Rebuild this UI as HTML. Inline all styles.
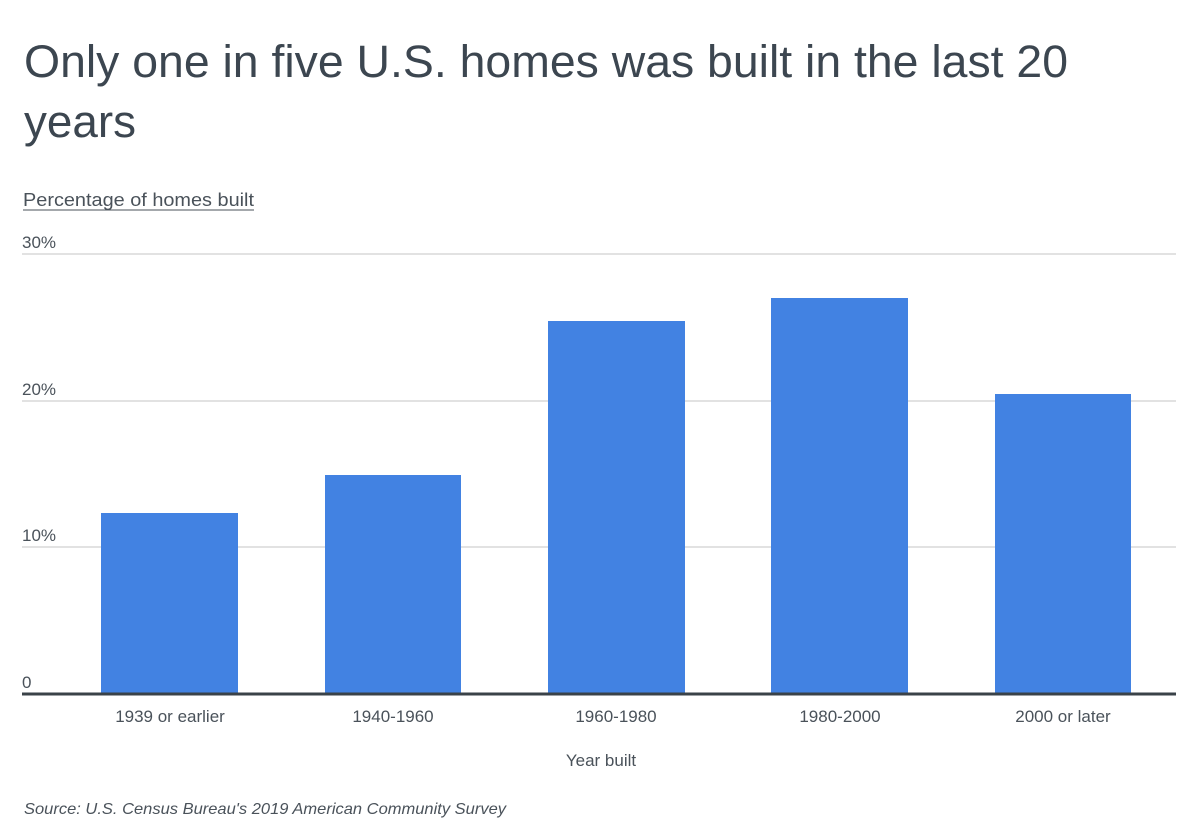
<!DOCTYPE html>
<html><head><style>
body{margin:0;background:#fff;}
svg{display:block;font-family:"Liberation Sans",sans-serif;}
</style></head><body>
<svg width="1200" height="838" xmlns="http://www.w3.org/2000/svg">
<rect width="1200" height="838" fill="#fff"/>
<text x="24" y="77" font-size="45" fill="#3c4650" textLength="1044" lengthAdjust="spacingAndGlyphs">Only one in five U.S. homes was built in the last 20</text>
<text x="24" y="137" font-size="45" fill="#3c4650" textLength="112" lengthAdjust="spacingAndGlyphs">years</text>
<text x="23" y="206" font-size="18" fill="#4a525a" textLength="231" lengthAdjust="spacingAndGlyphs">Percentage of homes built</text>
<line x1="23" y1="210" x2="254" y2="210" stroke="#4a525a" stroke-width="1"/>
<g fill="#4a525a" font-size="17">
<text x="22" y="248">30%</text>
<text x="22" y="395">20%</text>
<text x="22" y="541">10%</text>
<text x="22" y="688">0</text>
</g>
<g stroke="#d9d9d9" stroke-width="1.5">
<line x1="22" y1="254" x2="1176" y2="254"/>
<line x1="22" y1="401" x2="1176" y2="401"/>
<line x1="22" y1="547" x2="1176" y2="547"/>
</g>
<g fill="#4282e2">
<rect x="101" y="513" width="137" height="181"/>
<rect x="325" y="475" width="136" height="219"/>
<rect x="548" y="321" width="137" height="373"/>
<rect x="771" y="298" width="137" height="396"/>
<rect x="995" y="394" width="136" height="300"/>
</g>
<line x1="22" y1="694" x2="1176" y2="694" stroke="#3a4248" stroke-width="3"/>
<g fill="#4a525a" font-size="17" text-anchor="middle">
<text x="170" y="722">1939 or earlier</text>
<text x="393" y="722">1940-1960</text>
<text x="616" y="722">1960-1980</text>
<text x="840" y="722">1980-2000</text>
<text x="1063" y="722">2000 or later</text>
<text x="601" y="766">Year built</text>
</g>
<text x="24" y="814" font-size="16" font-style="italic" fill="#4a525a" textLength="482" lengthAdjust="spacingAndGlyphs">Source: U.S. Census Bureau's 2019 American Community Survey</text>
</svg>
</body></html>
